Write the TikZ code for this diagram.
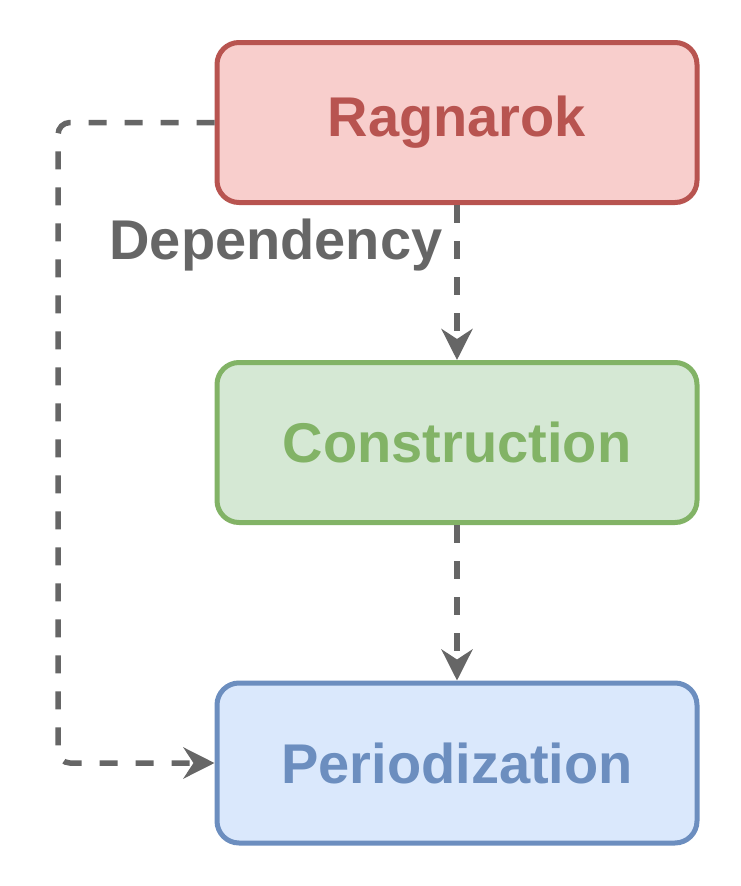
\documentclass[tikz,border=0pt]{standalone}
\usepackage{fontspec}
\setmainfont{Liberation Sans}
\usetikzlibrary{arrows.meta}
\definecolor{rfill}{HTML}{F8CECC}
\definecolor{rline}{HTML}{B85450}
\definecolor{gfill}{HTML}{D5E8D4}
\definecolor{gline}{HTML}{82B366}
\definecolor{bfill}{HTML}{DAE8FC}
\definecolor{bline}{HTML}{6C8EBF}
\definecolor{edgegray}{HTML}{666666}
\tikzset{
  box/.style={rounded corners=22pt, line width=5pt, minimum width=480pt, minimum height=160pt,
    font=\fontsize{56}{60}\selectfont\bfseries, inner sep=0pt},
  dep/.style={draw=edgegray, line width=5.5pt, dash pattern=on 18pt off 18pt,
    -{Stealth[length=31pt, width=31pt, inset=10pt]}},
  lbl/.style={font=\fontsize{56}{60}\selectfont\bfseries, text=edgegray, inner sep=0pt}
}
\begin{document}
\begin{tikzpicture}[x=1pt,y=-1pt]
\useasboundingbox (0,0) rectangle (740,886);
\node[box, draw=rline, fill=rfill, text=rline] (rag) at (457,122.5) {Ragnarok};
\node[box, draw=gline, fill=gfill, text=gline] (con) at (457,442.5) {Construction};
\node[box, draw=bline, fill=bfill, text=bline] (per) at (457,763) {Periodization};
\coordinate (c1) at (58,122.5);
\coordinate (c2) at (58,763);
\draw[dep] (rag.south) -- (con.north);
\draw[dep] (con.south) -- (per.north);
\draw[dep, rounded corners=12pt] (rag.west) -- (c1) -- (c2) -- (per.west);
\node[lbl] (dlabel) at (276,245) {Dependency};
\end{tikzpicture}
\end{document}
